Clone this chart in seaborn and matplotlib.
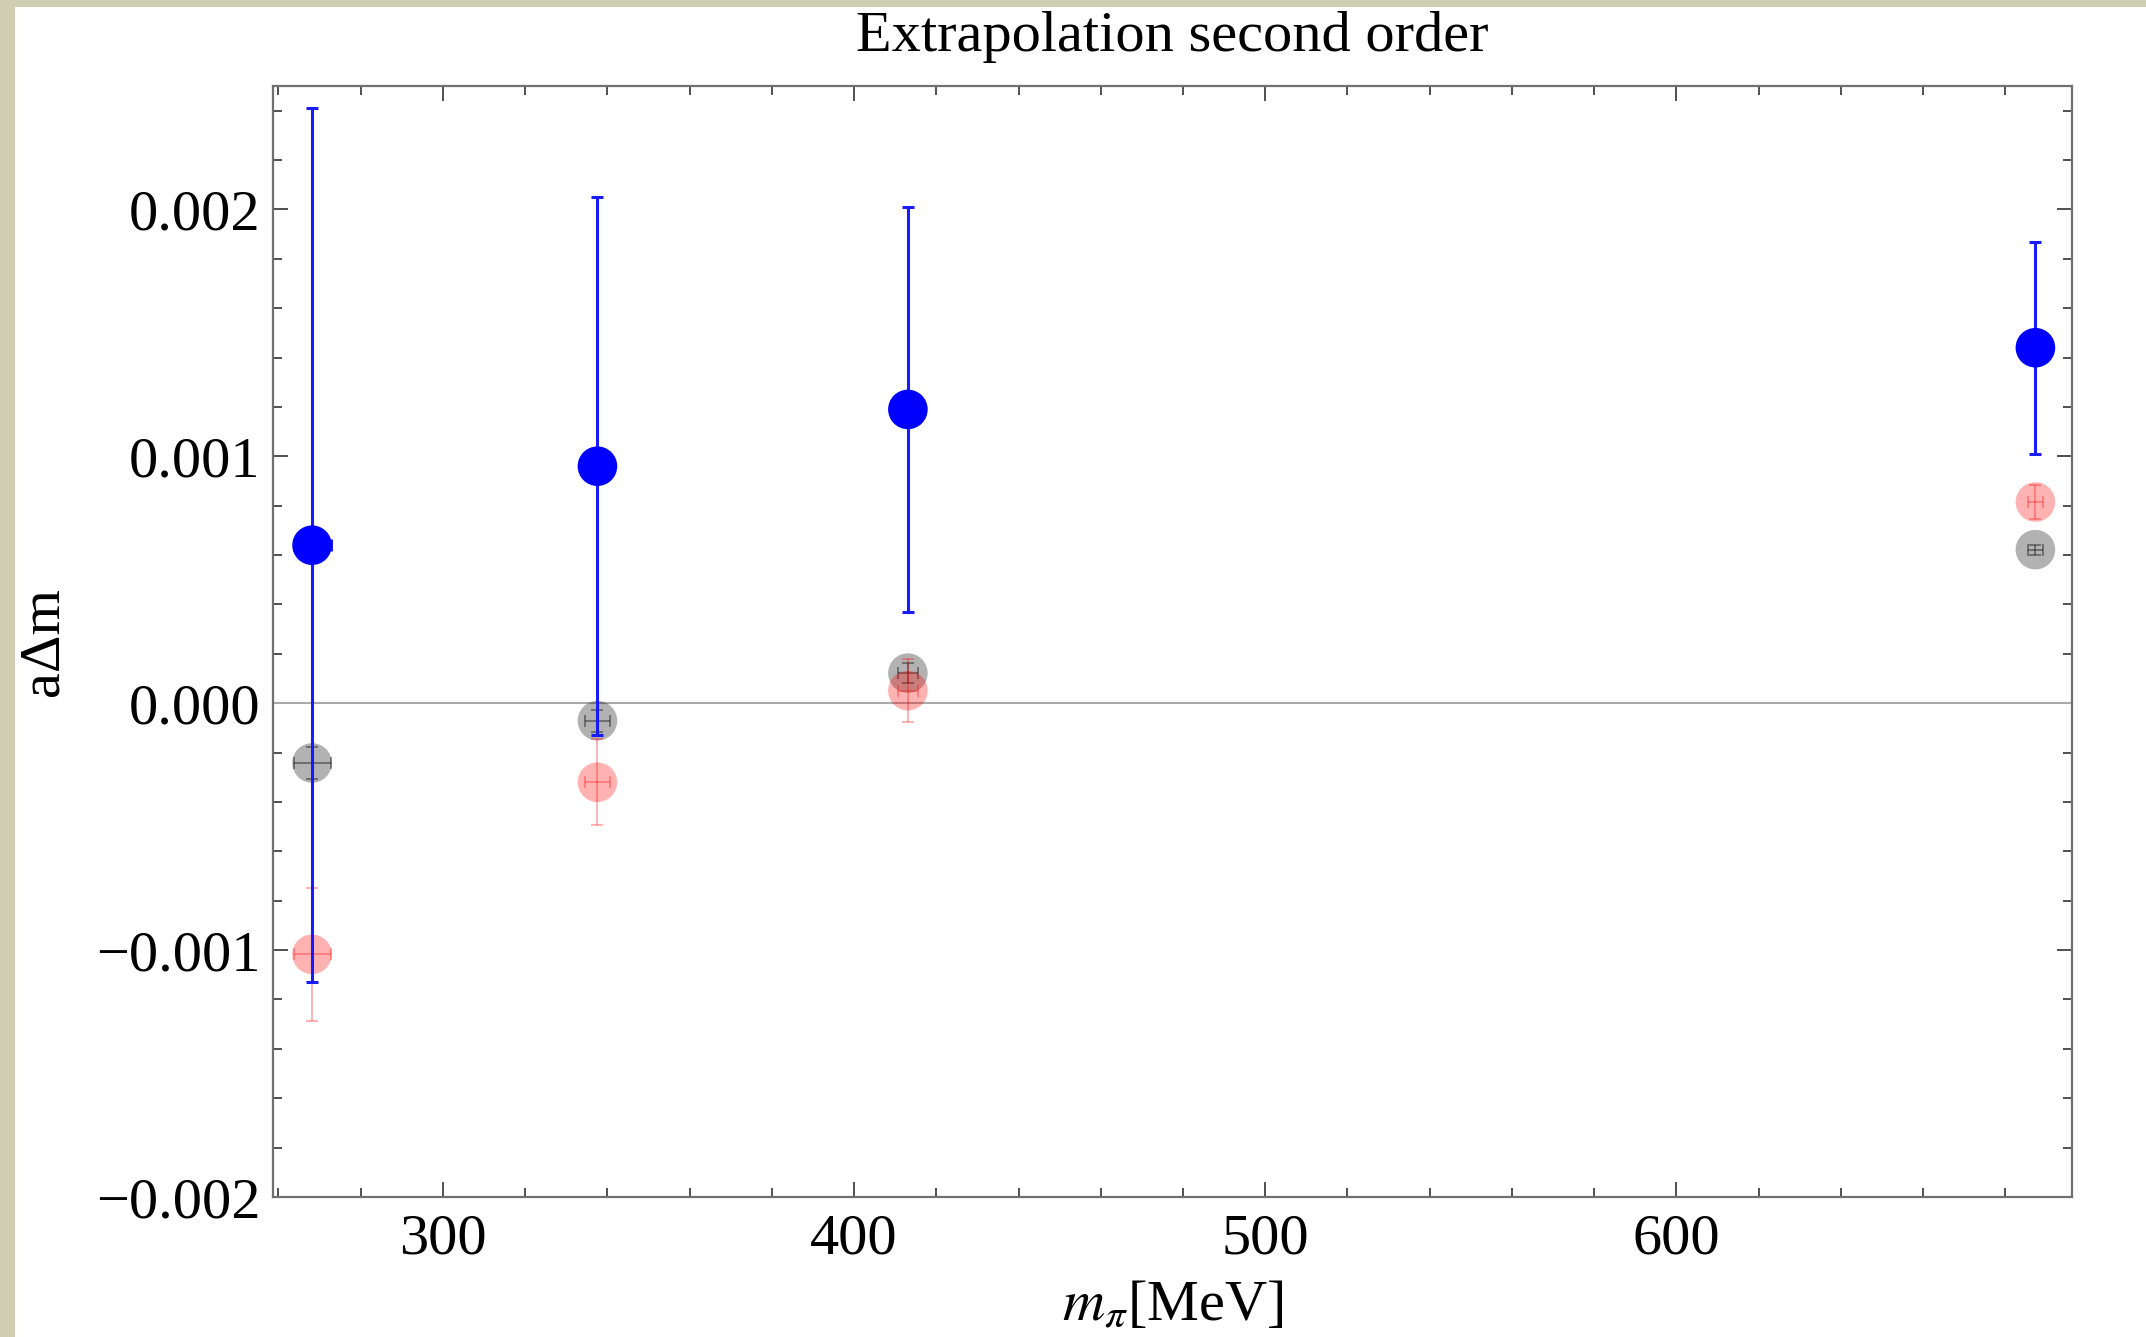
import numpy as np
import pandas as pd
import matplotlib
matplotlib.use("Agg")
import matplotlib.pyplot as plt
import seaborn as sns
from matplotlib.ticker import MultipleLocator, FuncFormatter

# ---- data ----
m_pi = [268.2, 337.6, 413.1, 687.3]
m_pi_err = [4.5, 3.0, 2.5, 1.8]

blue_y = [0.00064, 0.00096, 0.00119, 0.00144]
blue_err = [0.00177, 0.00109, 0.00082, 0.00043]

gray_y = [-0.000242, -0.000071, 0.000122, 0.000622]
gray_err = [0.000066, 0.000044, 0.00004, 0.00002]

red_y = [-0.001017, -0.00032, 0.000051, 0.000815]
red_err = [0.00027, 0.000175, 0.000129, 0.00007]

title = "Extrapolation second order"
xlabel = r"$m_\pi$[MeV]"
ylabel = "aΔm"

# ---- style ----
sns.set_theme(style="ticks")
plt.rcParams["font.family"] = ["Liberation Serif", "DejaVu Serif"]
plt.rcParams["mathtext.fontset"] = "stix"
plt.rcParams["axes.unicode_minus"] = True

FS = 42
W, H, DPI = 2146, 1337, 100
fig = plt.figure(figsize=(W / DPI, H / DPI), dpi=DPI)
fig.patch.set_facecolor("#d0ceb2")
bg = fig.add_axes([15 / W, 0, 1 - 15 / W, 1 - 7 / H], zorder=-10)
bg.set_facecolor("white")
bg.set_xticks([])
bg.set_yticks([])
for s in bg.spines.values():
    s.set_visible(False)

ax = fig.add_axes([273 / W, 1 - 1197 / H, (2072 - 273) / W, (1197 - 86) / H], zorder=1)
ax.set_facecolor("white")

df = pd.DataFrame({
    "m": m_pi * 3,
    "y": gray_y + red_y + blue_y,
    "series": ["gray"] * 4 + ["red"] * 4 + ["blue"] * 4,
})

ax.axhline(0, color="#aaaaaa", lw=1.5, zorder=1)

msize = 28.5 ** 2
# gray
sns.scatterplot(data=df[df.series == "gray"], x="m", y="y", color="black",
                alpha=0.3, s=msize, edgecolor="none", ax=ax, zorder=2, legend=False)
ax.errorbar(m_pi, gray_y, yerr=gray_err, xerr=m_pi_err, fmt="none",
            ecolor=(0, 0, 0, 0.45), elinewidth=1.2, capsize=4.5, capthick=1.2, zorder=3)
# red
sns.scatterplot(data=df[df.series == "red"], x="m", y="y", color="red",
                alpha=0.3, s=msize, edgecolor="none", ax=ax, zorder=4, legend=False)
ax.errorbar(m_pi, red_y, yerr=red_err, xerr=m_pi_err, fmt="none",
            ecolor=(1, 0, 0, 0.35), elinewidth=1.2, capsize=4.5, capthick=1.2, zorder=5)
# blue
ax.errorbar(m_pi, blue_y, yerr=blue_err, xerr=m_pi_err, fmt="none",
            ecolor="#1a1aff", elinewidth=2.2, capsize=4.5, capthick=2.2, zorder=6)
sns.scatterplot(data=df[df.series == "blue"], x="m", y="y", color="blue",
                s=msize, edgecolor="none", ax=ax, zorder=7, legend=False)

ax.set_xlim(258.7, 696.2)
ax.set_ylim(-0.002, 0.0025)

ax.xaxis.set_major_locator(MultipleLocator(100))
ax.xaxis.set_minor_locator(MultipleLocator(20))
ax.yaxis.set_major_locator(MultipleLocator(0.001))
ax.yaxis.set_minor_locator(MultipleLocator(0.0002))
ax.yaxis.set_major_formatter(FuncFormatter(lambda v, p: f"{v:.3f}".replace("-", "\u2212") if abs(v) > 1e-12 else "0.000"))
ax.xaxis.set_major_formatter(FuncFormatter(lambda v, p: f"{v:.0f}"))

for s in ax.spines.values():
    s.set_color("#707070")
    s.set_linewidth(1.6)
    s.set_visible(True)

ax.tick_params(which="both", direction="in", top=True, right=True,
               color="#505050", width=1.4, labelsize=FS, labelcolor="black")
ax.tick_params(which="major", length=11)
ax.tick_params(which="minor", length=6.5)
ax.tick_params(axis="y", which="major", pad=9)
ax.tick_params(axis="x", which="major", pad=12)

ax.set_xlabel(xlabel, fontsize=FS, labelpad=11, color="black")
ax.set_ylabel(ylabel, fontsize=FS, labelpad=19, color="black")
ax.set_title(title, fontsize=FS, pad=25, color="black")

fig.savefig("out.png", dpi=DPI, facecolor=fig.get_facecolor())
